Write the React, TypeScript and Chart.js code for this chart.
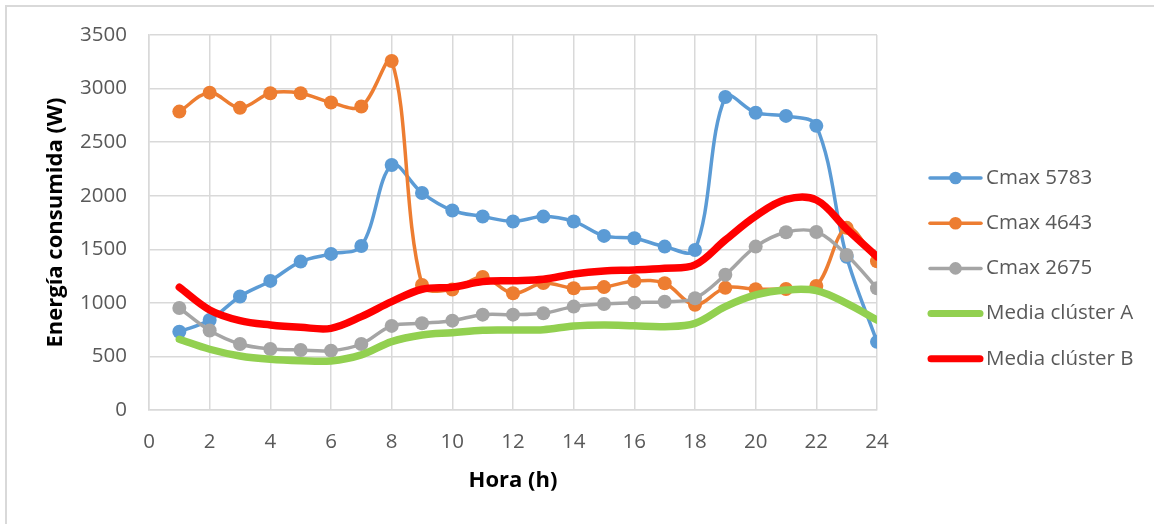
import React, { useEffect, useRef } from "react";
import { Chart, registerables } from "chart.js";

Chart.register(...registerables);

const hours = [1, 2, 3, 4, 5, 6, 7, 8, 9, 10, 11, 12, 13, 14, 15, 16, 17, 18, 19, 20, 21, 22, 23, 24];
const cmax5783 = [730, 840, 1060, 1205, 1385, 1457, 1530, 2287, 2026, 1862, 1806, 1760, 1805, 1760, 1625, 1603, 1525, 1494, 2922, 2775, 2745, 2652, 1430, 636];
const cmax4643 = [2785, 2962, 2820, 2957, 2957, 2870, 2832, 3258, 1167, 1125, 1242, 1089, 1185, 1136, 1147, 1204, 1183, 982, 1140, 1127, 1130, 1158, 1700, 1388];
const cmax2675 = [952, 742, 616, 570, 560, 554, 616, 785, 809, 834, 890, 890, 903, 965, 990, 1002, 1011, 1043, 1262, 1525, 1659, 1662, 1447, 1136];
const mediaA = [660, 567, 504, 473, 460, 458, 514, 638, 700, 722, 745, 747, 750, 784, 794, 786, 778, 809, 965, 1074, 1120, 1114, 996, 840];
const mediaB = [1146, 934, 834, 794, 772, 762, 871, 1011, 1127, 1146, 1198, 1207, 1220, 1270, 1298, 1307, 1323, 1354, 1587, 1810, 1965, 1960, 1690, 1431];

const seriesNames = ["Cmax 5783", "Cmax 4643", "Cmax 2675", "Media clúster A", "Media clúster B"];
const seriesColors = ["#5B9BD5", "#ED7D31", "#A5A5A5", "#92D050", "#FF0000"];

const FONT = "'Open Sans', 'Noto Sans', sans-serif";

const toPoints = (vals: number[]) => hours.map((h, i) => ({ x: h, y: vals[i] }));

const legendPlugin = {
  id: "customLegend",
  afterDraw(chart: any) {
    const ctx = chart.ctx;
    const items = chart.data.datasets;
    const startY = 178;
    const gap = 45.2;
    ctx.save();
    items.forEach((ds: any, i: number) => {
      const y = startY + i * gap;
      const hasMarker = ds.pointRadius > 0;
      ctx.strokeStyle = ds.borderColor;
      ctx.lineWidth = hasMarker ? 3.5 : 7;
      ctx.lineCap = "round";
      ctx.beginPath();
      ctx.moveTo(hasMarker ? 930 : 931, y);
      ctx.lineTo(hasMarker ? 981 : 980, y);
      ctx.stroke();
      if (hasMarker) {
        ctx.fillStyle = ds.borderColor;
        ctx.beginPath();
        ctx.arc(955.5, y, 6.3, 0, Math.PI * 2);
        ctx.fill();
      }
      ctx.fillStyle = "#595959";
      ctx.font = `20.5px ${FONT}`;
      ctx.textAlign = "left";
      ctx.textBaseline = "middle";
      ctx.fillText(ds.label, 986, y);
    });
    ctx.restore();
  },
};

export default function App() {
  const ref = useRef<HTMLCanvasElement | null>(null);

  useEffect(() => {
    if (!ref.current) return;
    const mk = (idx: number, vals: number[], marker: boolean, order: number) => ({
      label: seriesNames[idx],
      data: toPoints(vals),
      borderColor: seriesColors[idx],
      backgroundColor: seriesColors[idx],
      borderWidth: marker ? 3.5 : 7.5,
      pointRadius: marker ? 7 : 0,
      pointHoverRadius: marker ? 7 : 0,
      pointBorderWidth: 0,
      pointBackgroundColor: seriesColors[idx],
      tension: 0.35,
      fill: false,
      order,
      borderCapStyle: "round" as const,
      borderJoinStyle: "round" as const,
    });
    const chart = new Chart(ref.current, {
      type: "line",
      data: {
        datasets: [
          mk(0, cmax5783, true, 5),
          mk(1, cmax4643, true, 4),
          mk(2, cmax2675, true, 3),
          mk(3, mediaA, false, 2),
          mk(4, mediaB, false, 1),
        ],
      },
      options: {
        animation: false,
        responsive: false,
        layout: { padding: { left: 0, top: 35, right: 277, bottom: 0 } },
        plugins: {
          legend: { display: false },
          tooltip: { enabled: false },
        },
        scales: {
          x: {
            type: "linear",
            min: 0,
            max: 24,
            ticks: {
              stepSize: 2,
              color: "#595959",
              font: { family: FONT, size: 20.5 },
              padding: 20,
              maxRotation: 0,
              callback: (v: any) => String(v),
            },
            grid: { color: "#D9D9D9", lineWidth: 1.5, drawTicks: false },
            border: { color: "#D9D9D9", width: 1.5 },
            title: {
              display: true,
              text: "Hora (h)",
              color: "#000000",
              font: { family: FONT, size: 22, weight: "bold" },
              padding: { top: 0, bottom: 30 },
            },
            afterFit: (scale: any) => {
              scale.height = 114;
            },
          },
          y: {
            min: 0,
            max: 3500,
            ticks: {
              stepSize: 500,
              color: "#595959",
              font: { family: FONT, size: 20.5 },
              padding: 22,
              callback: (v: any) => String(v),
            },
            grid: { color: "#D9D9D9", lineWidth: 1.5, drawTicks: false },
            border: { color: "#D9D9D9", width: 1.5 },
            title: {
              display: true,
              text: "Energía consumida (W)",
              color: "#000000",
              font: { family: FONT, size: 22, weight: "bold" },
              padding: { top: 43, bottom: 0 },
            },
            afterFit: (scale: any) => {
              scale.width = 149;
            },
          },
        },
      },
      plugins: [legendPlugin],
    });
    return () => chart.destroy();
  }, []);

  return (
    <div style={{ position: "fixed", left: 0, top: 0, width: 1154, height: 524, background: "#ffffff" }}>
      <div
        style={{
          position: "absolute",
          left: 5,
          top: 5,
          width: 1160,
          height: 530,
          borderLeft: "2px solid #D9D9D9",
          borderTop: "2px solid #D9D9D9",
        }}
      />
      <canvas ref={ref} width={1154} height={524} style={{ position: "absolute", left: 0, top: 0 }} />
    </div>
  );
}
